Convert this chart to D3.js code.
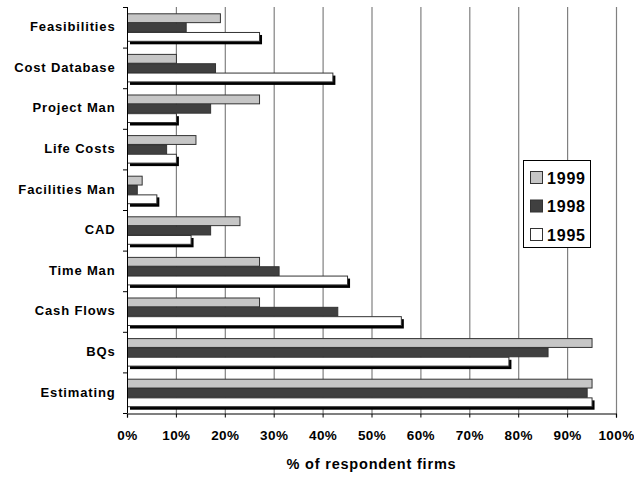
<!DOCTYPE html>
<html><head><meta charset="utf-8">
<script src="https://cdn.jsdelivr.net/npm/d3@7"></script>
<style>body{margin:0;background:#fff}svg{display:block}text{font-family:"Liberation Sans",Arial,sans-serif;font-weight:bold}</style>
</head><body><svg id="c" width="634" height="479"></svg>
<script>
const categories = ["Feasibilities","Cost Database","Project Man","Life Costs","Facilities Man","CAD","Time Man","Cash Flows","BQs","Estimating"];
const seriesNames = ["1999","1998","1995"];
const v1999 = [19,10,27,14,3,23,27,27,95,95];
const v1998 = [12,18,17,8,2,17,31,43,86,94];
const v1995 = [27,42,10,10,6,13,45,56,78,95];
const xTicks = [0,10,20,30,40,50,60,70,80,90,100];
const xTitle = "% of respondent firms";

const svg = d3.select("#c");
const pL = 127, pR = 616, pT = 7, pB = 413;
const x = d3.scaleLinear().domain([0,100]).range([pL,pR]);
const y = d3.scaleBand().domain(categories).range([pT,pB]).paddingInner(0.31).paddingOuter(0.155);
const inner = d3.scaleBand().domain(seriesNames).range([0,y.bandwidth()]);
const fills = {"1999":"#c6c6c6","1998":"#404040","1995":"#ffffff"};
const vals = {"1999":v1999,"1998":v1998,"1995":v1995};

// gridlines
svg.append("g").selectAll("line").data(xTicks.slice(1)).join("line")
  .attr("x1",d=>x(d)+0.5).attr("x2",d=>x(d)+0.5).attr("y1",pT).attr("y2",pB)
  .attr("stroke","#808080").attr("stroke-width",1.2);

// bars
seriesNames.forEach(s=>{
  const g = svg.append("g");
  const data = categories.map((c,i)=>({c,v:vals[s][i]}));
  if(s==="1995"){
    g.selectAll("rect.sh").data(data).join("rect").attr("class","sh")
      .attr("x",x(0)+3).attr("y",d=>y(d.c)+inner(s)+3)
      .attr("width",d=>x(d.v)-x(0)).attr("height",inner.bandwidth())
      .attr("fill","#000");
  }
  g.selectAll("rect.b").data(data).join("rect").attr("class","b")
    .attr("x",x(0)+0.5).attr("y",d=>y(d.c)+inner(s)+0.5)
    .attr("width",d=>x(d.v)-x(0)).attr("height",inner.bandwidth()-0.5)
    .attr("fill",fills[s]).attr("stroke","#333").attr("stroke-width",1);
});

// y axis
const ya = svg.append("g");
ya.append("line").attr("x1",pL+0.5).attr("x2",pL+0.5).attr("y1",pT).attr("y2",pB).attr("stroke","#000");
const edges = categories.map(c=>y(c)-y.step()*y.paddingInner()/2).concat([pB]);
ya.selectAll("line.t").data(edges).join("line").attr("class","t")
  .attr("x1",pL-4).attr("x2",pL).attr("y1",d=>d+0.5).attr("y2",d=>d+0.5).attr("stroke","#000");
ya.selectAll("text").data(categories).join("text")
  .attr("x",115.5).attr("y",d=>y(d)+y.bandwidth()/2+3.8).attr("text-anchor","end")
  .attr("font-size",13).attr("letter-spacing","0.85px").attr("fill","#000").text(d=>d);

// x axis
const xa = svg.append("g").attr("transform",`translate(0,${pB+0.5})`)
  .call(d3.axisBottom(x).tickValues(xTicks).tickFormat(d=>d+"%").tickSize(4).tickPadding(13));
xa.select(".domain").attr("stroke","#000").attr("stroke-width",1.2);
xa.selectAll("text").attr("font-size",13.5).attr("letter-spacing","0.4px").attr("fill","#000")
  .attr("font-family","Liberation Sans, Arial, sans-serif").attr("font-weight","bold");

svg.append("text").attr("x",x(50)).attr("y",469).attr("text-anchor","middle")
  .attr("font-size",14.5).attr("letter-spacing","0.8px").attr("fill","#000").text(xTitle);

// legend
const lg = svg.append("g");
lg.append("rect").attr("x",523.5).attr("y",160.5).attr("width",67).attr("height",87).attr("fill","#fff").attr("stroke","#000");
seriesNames.forEach((s,i)=>{
  lg.append("rect").attr("x",530.5).attr("y",171.5+i*28.5).attr("width",12).attr("height",12).attr("fill",fills[s]).attr("stroke","#333");
  lg.append("text").attr("x",547).attr("y",183.5+i*28.5).attr("font-size",16).attr("letter-spacing","0.8px").attr("fill","#000").text(s);
});
</script></body></html>
